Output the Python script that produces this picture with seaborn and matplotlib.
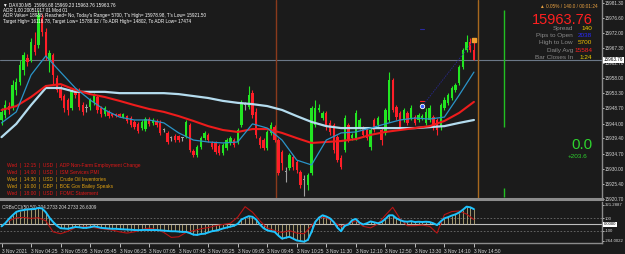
import matplotlib
matplotlib.use("Agg")
import matplotlib.pyplot as plt
import seaborn as sns
import numpy as np

# ---- candles (DAX30 M5) ----
opens = [15945.1, 15946.6, 15949.4, 15948.8, 15954.4, 15956.8, 15960.6, 15964.3, 15963.6, 15968.3,
         15968.3, 15976.6, 15972.3, 15963.6, 15965.2, 15958.1, 15955.0, 15952.5, 15951.3, 15948.8,
         15954.4, 15954.4, 15949.7, 15948.8, 15949.1, 15950.7, 15952.2, 15948.8, 15946.9, 15947.6,
         15946.9, 15946.9, 15946.9, 15946.0, 15946.3, 15945.7, 15944.5, 15943.9, 15942.6, 15942.3,
         15945.4, 15944.2, 15944.8, 15944.2, 15942.0, 15941.1, 15939.5, 15940.1, 15940.1, 15939.5,
         15939.8, 15943.5, 15935.5, 15934.3, 15936.7, 15939.5, 15940.5, 15938.0, 15938.0, 15937.1,
         15934.9, 15936.4, 15938.0, 15938.9, 15938.3, 15943.5, 15949.7, 15949.1, 15953.4, 15947.6,
         15939.5, 15938.9, 15936.4, 15941.1, 15942.9, 15938.9, 15935.2, 15929.0, 15930.3, 15933.7,
         15932.1, 15929.0, 15926.5, 15925.0, 15928.7, 15943.5, 15948.2, 15945.7, 15947.3, 15944.2,
         15943.5, 15939.8, 15933.3, 15935.8, 15943.5, 15939.5, 15939.5, 15942.9, 15942.6, 15942.0,
         15936.7, 15945.1, 15943.5, 15942.0, 15941.1, 15945.1, 15957.5, 15949.1, 15947.3, 15945.1,
         15947.3, 15945.7, 15946.0, 15945.1, 15945.7, 15944.2, 15945.1, 15946.0, 15945.1, 15942.9,
         15948.8, 15950.4, 15951.9, 15954.4, 15956.5, 15961.5, 15966.7, 15969.2, 15966.68]
highs = [15948.8, 15951.3, 15950.7, 15957.5, 15958.1, 15963.6, 15966.1, 15965.5, 15970.5, 15972.3,
         15978.98, 15977.9, 15973.5, 15966.7, 15965.8, 15959.0, 15955.9, 15953.1, 15951.9, 15955.0,
         15955.0, 15955.0, 15950.7, 15950.0, 15951.9, 15953.4, 15952.8, 15949.4, 15949.4, 15948.2,
         15947.3, 15947.3, 15947.3, 15947.3, 15946.6, 15946.3, 15945.1, 15944.5, 15945.1, 15946.0,
         15946.0, 15945.7, 15945.4, 15945.1, 15942.6, 15941.7, 15940.1, 15940.8, 15940.5, 15939.8,
         15945.1, 15944.2, 15936.1, 15937.4, 15940.1, 15941.7, 15941.1, 15938.6, 15938.6, 15937.7,
         15938.0, 15939.5, 15940.1, 15939.5, 15942.6, 15951.3, 15950.7, 15955.6, 15954.4, 15948.8,
         15940.1, 15939.5, 15942.0, 15944.5, 15943.5, 15939.5, 15935.8, 15930.6, 15934.9, 15934.3,
         15932.7, 15929.6, 15928.1, 15928.7, 15949.4, 15951.3, 15950.0, 15947.9, 15947.9, 15945.1,
         15944.2, 15940.5, 15934.3, 15946.6, 15944.2, 15941.1, 15948.2, 15945.7, 15943.2, 15942.6,
         15942.6, 15945.7, 15946.3, 15942.6, 15948.8, 15959.9, 15958.1, 15949.7, 15947.9, 15948.8,
         15947.9, 15949.7, 15946.6, 15947.3, 15946.9, 15948.8, 15949.7, 15946.6, 15945.7, 15950.4,
         15952.2, 15953.4, 15955.6, 15956.5, 15962.1, 15967.4, 15971.4, 15970.5, 15969.23]
lows = [15943.5, 15945.7, 15946.9, 15948.2, 15952.8, 15955.9, 15959.0, 15961.8, 15963.0, 15965.2,
        15967.4, 15971.1, 15963.6, 15959.9, 15955.9, 15953.8, 15951.3, 15947.6, 15946.6, 15948.2,
        15951.9, 15948.2, 15946.6, 15947.6, 15948.2, 15949.7, 15947.3, 15946.0, 15946.3, 15945.7,
        15946.0, 15946.0, 15946.0, 15945.7, 15944.2, 15942.9, 15942.3, 15941.1, 15942.0, 15941.7,
        15943.2, 15943.5, 15942.9, 15940.5, 15941.4, 15937.7, 15938.6, 15938.3, 15938.3, 15938.6,
        15939.5, 15935.2, 15933.7, 15933.7, 15936.1, 15938.9, 15938.3, 15936.1, 15934.6, 15934.3,
        15934.3, 15935.8, 15937.4, 15936.7, 15937.7, 15942.9, 15948.2, 15948.5, 15945.7, 15939.5,
        15936.4, 15935.8, 15935.8, 15940.5, 15938.3, 15928.1, 15929.6, 15925.9, 15929.6, 15929.6,
        15928.7, 15924.1, 15921.5, 15923.4, 15928.1, 15942.9, 15947.6, 15945.1, 15942.0, 15940.5,
        15934.9, 15932.1, 15929.9, 15935.2, 15938.3, 15938.9, 15938.9, 15942.3, 15939.8, 15938.9,
        15935.8, 15941.4, 15942.9, 15937.4, 15940.5, 15944.5, 15947.6, 15945.1, 15942.0, 15944.5,
        15943.5, 15945.1, 15943.5, 15944.5, 15945.1, 15943.5, 15944.5, 15942.0, 15940.5, 15942.0,
        15948.2, 15949.7, 15951.3, 15953.8, 15955.9, 15960.9, 15966.1, 15966.1, 15963.76]
closes = [15947.6, 15949.7, 15948.2, 15955.9, 15956.8, 15962.1, 15965.2, 15963.0, 15969.2, 15966.1,
          15977.6, 15972.3, 15964.6, 15965.8, 15959.0, 15954.4, 15951.9, 15948.8, 15948.2, 15954.4,
          15952.8, 15949.1, 15947.6, 15948.8, 15951.3, 15952.8, 15948.2, 15946.9, 15948.8, 15946.3,
          15946.3, 15946.3, 15946.3, 15946.9, 15944.8, 15943.5, 15942.9, 15941.7, 15944.5, 15945.4,
          15943.9, 15945.1, 15943.5, 15941.1, 15942.0, 15938.3, 15939.5, 15938.9, 15938.9, 15939.5,
          15944.5, 15935.8, 15934.3, 15936.7, 15939.5, 15941.1, 15938.9, 15936.7, 15935.2, 15934.9,
          15937.4, 15938.9, 15939.5, 15937.4, 15942.0, 15950.4, 15949.7, 15952.8, 15946.6, 15940.5,
          15937.4, 15936.4, 15941.4, 15943.5, 15938.9, 15928.7, 15931.8, 15929.0, 15934.3, 15930.6,
          15929.6, 15925.0, 15926.5, 15928.1, 15948.8, 15948.8, 15948.8, 15947.3, 15942.9, 15941.4,
          15935.8, 15932.7, 15930.6, 15945.7, 15938.9, 15940.5, 15947.3, 15945.1, 15940.5, 15939.5,
          15942.0, 15942.0, 15945.7, 15938.9, 15948.2, 15957.5, 15948.2, 15946.0, 15942.9, 15948.2,
          15944.2, 15948.8, 15944.2, 15946.6, 15946.3, 15947.6, 15948.8, 15942.9, 15942.0, 15949.7,
          15951.3, 15952.8, 15955.0, 15955.9, 15961.5, 15966.7, 15969.2, 15966.7, 15963.76]

# ---- moving averages, read every 4 bars ----
ma_slow = [15939.8, 15943.9, 15949.7, 15955.0, 15955.0, 15953.8, 15953.8, 15953.8, 15953.4, 15953.4,
           15953.4, 15953.4, 15953.1, 15952.5, 15951.9, 15951.0, 15950.4, 15950.0, 15949.4, 15948.2,
           15946.3, 15944.5, 15943.2, 15942.6, 15942.6, 15942.6, 15942.6, 15942.6, 15942.6, 15942.9,
           15943.2, 15944.2, 15945.1]
ma_mid = [15948.2, 15949.4, 15952.2, 15955.6, 15956.2, 15954.4, 15953.1, 15952.2, 15951.0, 15949.7,
          15948.5, 15947.6, 15946.3, 15944.8, 15943.2, 15942.0, 15941.4, 15942.3, 15942.3, 15941.1,
          15939.5, 15938.0, 15938.3, 15938.6, 15939.2, 15940.5, 15941.4, 15942.0, 15942.6, 15943.2,
          15944.8, 15947.3, 15950.7]
ma_fast = [15944.2, 15947.6, 15959.0, 15964.9, 15959.9, 15955.0, 15951.3, 15948.2, 15946.0, 15945.1,
           15945.1, 15944.2, 15941.1, 15938.9, 15938.3, 15938.0, 15938.3, 15943.9, 15942.6, 15938.9,
           15932.7, 15931.2, 15938.9, 15941.1, 15941.4, 15942.6, 15943.9, 15945.1, 15945.7, 15945.4,
           15946.0, 15952.8, 15959.9]

# ---- CCI indicator ----
cci_fast = [-30, 20, 90, 150, 205, 225, 235, 245, 248, 252,
            270, 260, 200, 110, 40, -20, -60, -65, -70, -55,
            -40, -45, -55, -55, -45, -30, -40, -55, -60, -65,
            -70, -70, -75, -78, -82, -85, -90, -92, -90, -88,
            -90, -90, -90, -95, -100, -105, -110, -110, -115, -120,
            -120, -140, -165, -170, -155, -150, -130, -110, -100, -85,
            -65, -50, -35, -20, 10, 80, 110, 135, 125, 80,
            0, -60, -95, -110, -120, -180, -230, -215, -200, -230,
            -260, -270, -280, -250, -120, 40, 110, 150, 130, 100,
            40, -50, -110, -20, 0, 70, 90, 30, 0, 20,
            50, 35, 20, 40, 90, 150, 150, 100, 70, 50,
            45, 55, 40, 45, 40, 45, 40, 20, -10, 50,
            100, 120, 145, 165, 195, 240, 290, 280, 250]
cci_slow = [-20, 60, 110, 115, 100, 110, 60, -120, -150, -110,
            -50, -40, -40, -60, -75, -90, -120, -140, -120, -80,
            -60, -80, -130, -210, -200, -130, -100, -70, -50, -20,
            0, 20, 120, 290, 200, 60, -60, -100, -130, -100,
            -140, -150, -20, 120, 110, 40, -35, 20, 60, -30,
            -55, 10, 150, 280, 90, -20, -20, -10, -30, -140,
            160, 210, 220, 170, 80]
cci_ticks = [321.2887, 100, -100, -264.0022]
cci_tick_labels = ["321.2887", "100", "-100", "-264.0022"]

price_ticks = [15981.30, 15976.60, 15972.00, 15967.30, 15962.70, 15958.00, 15953.30,
               15948.70, 15944.00, 15939.40, 15934.70, 15930.00, 15925.40, 15920.70]
time_labels = ["3 Nov 2021", "3 Nov 04:25", "3 Nov 05:05", "3 Nov 05:45", "3 Nov 06:25",
               "3 Nov 07:05", "3 Nov 07:45", "3 Nov 08:25", "3 Nov 09:05", "3 Nov 09:45",
               "3 Nov 10:25", "3 Nov 11:30", "3 Nov 12:10", "3 Nov 12:50", "3 Nov 13:30",
               "3 Nov 14:10", "3 Nov 14:50"]

session_bars = [74.4, 129.1]
session_colors = ["#8a3a1c", "#a8681e"]
signal_bar, signal_price, target_price = 114, 15949.4, 15969.8

news = ["Wed  |  12:15  |  USD  |  ADP Non-Farm Employment Change",
        "Wed  |  14:00  |  USD  |  ISM Services PMI",
        "Wed  |  14:30  |  USD  |  Crude Oil Inventories",
        "Wed  |  16:00  |  GBP  |  BOE Gov Bailey Speaks",
        "Wed  |  18:00  |  USD  |  FOMC Statement"]
news_colors = ["#e01818", "#e01818", "#e0a010", "#e0a010", "#e01818"]

info_labels = ["Spread", "Pips to Open", "High to Low", "Daily Avg", "Bar Closes In"]
info_values = ["140", "2038", "5700", "15584", "1:24"]
info_colors = ["#f0d000", "#2a2aff", "#f0c000", "#ff2020", "#f0d000"]

W, H = 625, 254
BG = "#1b1b1b"
AXC = "#8c8c8c"
TXT = "#d8d8d8"
SMALL = 3.3

sns.set_theme(style="dark", rc={"axes.facecolor": BG, "figure.facecolor": BG})
plt.rcParams["font.family"] = ["Liberation Sans", "DejaVu Sans"]

fig = plt.figure(figsize=(W / 100, H / 100), dpi=100)
ax = fig.add_axes([0, 1 - 199 / H, 602 / W, 199 / H])
ax2 = fig.add_axes([0, 1 - 243 / H, 602 / W, 41 / H])

bars = np.arange(len(closes))
ma_bars = np.arange(0, len(closes), 4)

for a in (ax, ax2):
    a.set_xlim(-0.41, 162.7)
    a.grid(False)
    for s in a.spines.values():
        s.set_visible(False)
    a.spines["right"].set_visible(True)
    a.spines["right"].set_color(AXC)
    a.spines["right"].set_linewidth(1.0)

ax.spines["bottom"].set_visible(True)
ax.spines["bottom"].set_color(AXC)
ax.spines["bottom"].set_linewidth(2.2)
ax2.spines["bottom"].set_visible(True)
ax2.spines["bottom"].set_color(AXC)
ax2.spines["bottom"].set_linewidth(1.0)

# ---- main price panel ----
ax.set_ylim(15920.67, 15982.2)
ax.axhline(closes[-1], color="#6b7888", lw=0.8, zorder=1)
for b, c in zip(session_bars, session_colors):
    ax.axvline(b, color=c, lw=1.0, zorder=1)
ax.vlines(136.2, 15942.9, 15979.1, color="#22c022", lw=1.0, zorder=1)
ax.vlines(136.2, 15921.3, 15924.1, color="#22c022", lw=1.0, zorder=1)

colors = ["#22e622" if c > o else "#ff1e28" if c < o else "#a0a0a0" for o, c in zip(opens, closes)]
ax.vlines(bars, lows, highs, colors=colors, lw=0.8, zorder=3)
body_low = np.minimum(opens, closes)
body_h = np.maximum(np.abs(np.subtract(closes, opens)), 0.25)
ax.bar(bars, body_h, bottom=body_low, width=0.64, color=colors, linewidth=0, zorder=3)

sns.lineplot(x=ma_bars, y=ma_slow, ax=ax, color="#b4dcee", lw=1.6, zorder=4, legend=False)
sns.lineplot(x=ma_bars, y=ma_mid, ax=ax, color="#ee1c1c", lw=1.5, zorder=4, legend=False)
sns.lineplot(x=ma_bars, y=ma_fast, ax=ax, color="#2a94c8", lw=0.9, zorder=4, legend=False)

ax.plot([signal_bar, bars[-1]], [signal_price, target_price], ls=(0, (1.5, 1.5)), color="#2a2aa0", lw=0.6, zorder=4)
ax.plot([signal_bar], [signal_price], "o", ms=3.2, mfc="#3a5cff", mec="white", mew=0.6, zorder=5)
ax.plot([signal_bar - 0.5, signal_bar + 0.5], [signal_price + 1.6] * 2, color="#ff2020", lw=0.8, zorder=5)
ax.plot([signal_bar - 0.5, signal_bar + 0.5], [15973.2] * 2, color="#2a2aa0", lw=0.8, zorder=5)
ax.plot([bars[-1]], [target_price], "s", ms=2.2, color="#f0a030", zorder=5)

ax.yaxis.tick_right()
ax.set_yticks(price_ticks)
ax.set_yticklabels([f"{p:.2f}" for p in price_ticks])
ax.tick_params(axis="y", labelsize=SMALL, colors=TXT, length=1.5, width=0.6, pad=0.6, right=True)
ax.set_xticks([])
ax.text(1.003, closes[-1], f"{closes[-1]:.2f}", transform=ax.get_yaxis_transform(), fontsize=SMALL,
        color="black", va="center", ha="left", zorder=6, clip_on=False,
        bbox=dict(boxstyle="square,pad=0.12", fc="white", ec="none"))

# ---- CCI panel ----
ax2.set_ylim(-301, 366)
ax2.vlines(bars, 0, cci_fast, colors="#c8b884", lw=0.55, zorder=2)
ax2.axhline(100, ls=(0, (2, 2)), color="#6e6e6e", lw=0.6, zorder=1)
ax2.axhline(-100, ls=(0, (2, 2)), color="#6e6e6e", lw=0.6, zorder=1)
ax2.axhline(0, color="#bdbdbd", lw=0.8, zorder=1)
sns.lineplot(x=np.arange(0, len(closes), 2), y=cci_slow, ax=ax2, color="#b81414", lw=0.8, zorder=3, legend=False)
sns.lineplot(x=bars, y=cci_fast, ax=ax2, color="#1ec4ff", lw=1.4, zorder=4, legend=False)

ax2.yaxis.tick_right()
ax2.set_yticks(cci_ticks)
ax2.set_yticklabels(cci_tick_labels)
ax2.tick_params(axis="y", labelsize=3.1, colors=TXT, length=1.5, width=0.6, pad=0.6, right=True)
ax2.text(1.003, 0, "0.0000", transform=ax2.get_yaxis_transform(), fontsize=3.1, color="black",
         va="center", ha="left", zorder=6, clip_on=False,
         bbox=dict(boxstyle="square,pad=0.12", fc="white", ec="none"))
ax2.set_xticks(np.arange(0, len(closes), 8))
ax2.set_xticklabels(time_labels, ha="left")
ax2.tick_params(axis="x", labelsize=3.5, colors=TXT, length=3, width=0.6, pad=1, bottom=True)
ax2.set_xlabel("")
ax2.set_ylabel("")
ax.set_xlabel("")
ax.set_ylabel("")
ax2.text(0.004, 0.93, "CRBsCCI(50,50) 204.2733 204.2733 26.6309", transform=ax2.transAxes,
         fontsize=3.3, color=TXT, va="top", ha="left")


def fpos(x, y):
    return x / W, 1 - y / H


# ---- overlay texts ----
hdr = ["\u25bc DAX30.M5  15966.68 15969.23 15963.76 15963.76",
       "ADR 1.00 20051017 01 Mod 01",
       "ADR Value= 18988, Reached= No, Today's Range= 5700, T's High= 15978.98, T's Low= 15921.50",
       "Target High= 16116.78, Target Low= 15788.92 / To ADR High= 14802, To ADR Low= 17474"]
for i, t in enumerate(hdr):
    fig.text(*fpos(3, 5 + 5.4 * i), t, fontsize=3.3, color="white", va="center", ha="left")

fig.text(*fpos(598, 7), "\u25b2 0.05% / 140.0 / 00:01:24", fontsize=3.4, color="#e8a040", va="center", ha="right")
fig.text(*fpos(593, 20), f"{closes[-1]:.2f}", fontsize=10.5, color="#ff2020", va="center", ha="right")
for i, (lab, val, col) in enumerate(zip(info_labels, info_values, info_colors)):
    y = 28.5 + 7.2 * i
    fig.text(*fpos(573, y), lab, fontsize=4.6, color="#8a8a8a", va="center", ha="right")
    fig.text(*fpos(592, y), val, fontsize=4.6, color=col, va="center", ha="right")

fig.text(*fpos(592, 145), "0.0", fontsize=11, color="#2ed22e", va="center", ha="right")
fig.text(*fpos(587, 156), "+203.6", fontsize=4.6, color="#2ed22e", va="center", ha="right")

for i, (t, c) in enumerate(zip(news, news_colors)):
    fig.text(*fpos(7, 165.7 + 7 * i), t, fontsize=3.5, color=c, va="center", ha="left")

fig.savefig("out.png", dpi=100, facecolor=BG)
